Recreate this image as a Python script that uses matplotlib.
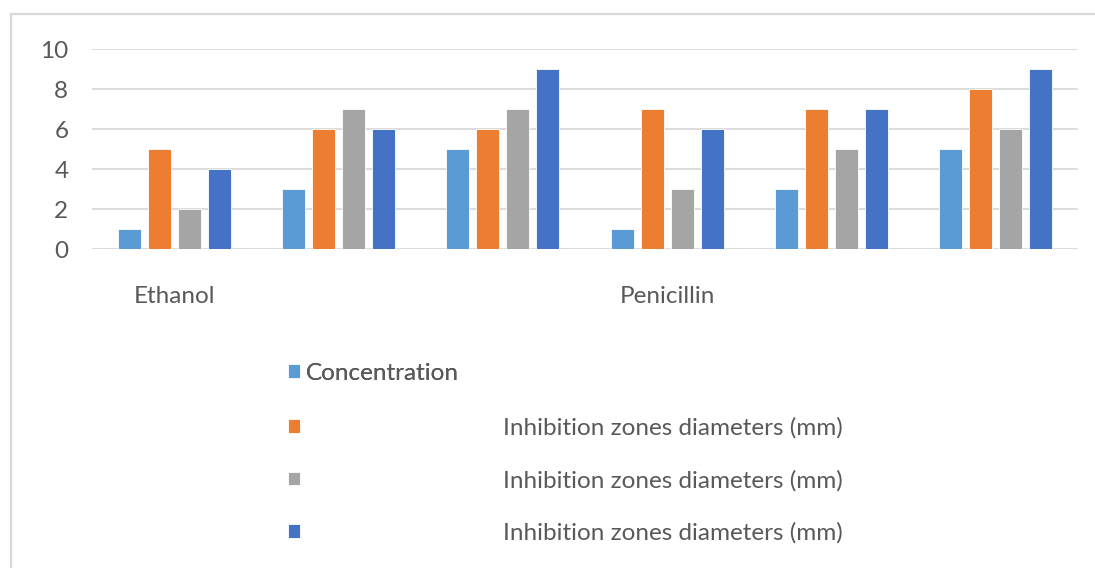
import numpy as np
import matplotlib.pyplot as plt
from matplotlib.patches import Rectangle
from matplotlib.transforms import blended_transform_factory

plt.rcParams['font.family'] = ['Lato', 'DejaVu Sans']

# two-level categories (outer label per group)
groups = ["Ethanol", "Penicillin", "Penicillin", "Penicillin", "Penicillin", "Penicillin"]
series_names = ["Concentration",
                "Inhibition zones diameters (mm)",
                "Inhibition zones diameters (mm)",
                "Inhibition zones diameters (mm)"]
concentration = [1, 3, 5, 1, 3, 5]
zone_a = [5, 6, 6, 7, 7, 8]
zone_b = [2, 7, 7, 3, 5, 6]
zone_c = [4, 6, 9, 6, 7, 9]
colors = ["#5B9BD5", "#ED7D31", "#A5A5A5", "#4472C4"]
text_color = "#595959"
fs = 17.5

fig = plt.figure(figsize=(10.95, 5.68), dpi=100)
ax = fig.add_axes([0.084, 0.5616, 0.9005, 0.3521])

x = np.arange(len(groups))
width = 0.14
step = 0.182
values = [concentration, zone_a, zone_b, zone_c]
bars = []
for i, vals in enumerate(values):
    b = ax.bar(x + (i - 1.5) * step, vals, width, color=colors[i],
               edgecolor="white", linewidth=0.6, zorder=3)
    bars.append(b)

ax.set_xlim(-0.5, len(groups) - 0.5)
ax.set_ylim(0, 10)
ax.set_yticks(range(0, 11, 2))
ax.grid(axis="y", color="#D9D9D9", linewidth=1.3, zorder=0)
for s in ax.spines.values():
    s.set_visible(False)
ax.tick_params(axis="y", length=0, pad=17, labelsize=fs, labelcolor=text_color)
ax.set_xticks([])

# outer category labels centered on the groups they span
trans = blended_transform_factory(ax.transData, ax.transAxes)
seen = []
for g in groups:
    if g not in seen:
        seen.append(g)
for g in seen:
    idx = [i for i, name in enumerate(groups) if name == g]
    ax.text(np.mean(idx), -0.235, g, transform=trans, ha="center", va="center",
            fontsize=fs, color=text_color)

# legend: first entry tight, other entries with a wide gap (as in the source)
leg1 = fig.legend([bars[0]], [series_names[0]], loc="upper left",
                  bbox_to_anchor=(0.254, 0.378), frameon=False, fontsize=fs,
                  handlelength=0.5, handleheight=0.5, handletextpad=0.25,
                  labelcolor=text_color, borderaxespad=0)
fig.add_artist(leg1)
fig.legend(bars[1:], series_names[1:], loc="upper left",
           bbox_to_anchor=(0.254, 0.283), frameon=False, fontsize=fs,
           handlelength=0.5, handleheight=0.5, handletextpad=8.35,
           labelspacing=1.28, labelcolor=text_color, borderaxespad=0)

# chart area border
fig.patches.append(Rectangle((11 / 1095, -0.1), 1.2, 1 - 14 / 568 + 0.1,
                             transform=fig.transFigure, fill=False,
                             edgecolor="#D9D9D9", linewidth=1.6))

fig.savefig("out.png", dpi=100)
